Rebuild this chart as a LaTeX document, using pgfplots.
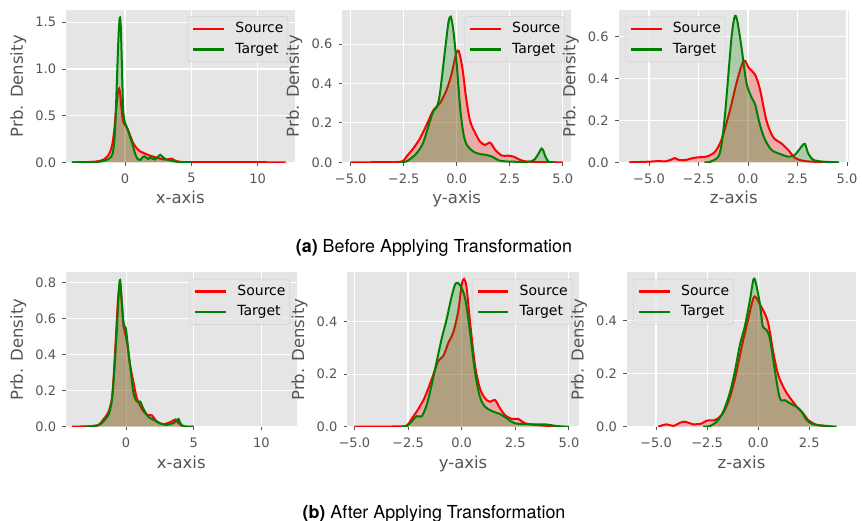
\documentclass[border=0pt]{standalone}
\usepackage{fontspec}
\setmainfont{DejaVu Sans}
\newfontfamily\capfont{TeX Gyre Heros}
\usepackage{pgfplots}
\usepackage{pgfplotstable}
\pgfplotsset{compat=1.18}

\definecolor{bggray}{HTML}{E5E5E5}
\definecolor{labgray}{HTML}{555555}
\definecolor{src}{HTML}{FF0000}
\definecolor{tgt}{HTML}{008000}

% ---- data: top row (before) ----
\pgfplotstableread{
x y
-4.0 0
-3.0 0.002
-2.4 0.006
-2.0 0.012
-1.6 0.03
-1.35 0.06
-1.13 0.11
-0.95 0.2
-0.8 0.36
-0.68 0.56
-0.55 0.74
-0.45 0.79
-0.37 0.74
-0.27 0.58
-0.15 0.44
0.0 0.40
0.15 0.37
0.35 0.30
0.6 0.21
0.88 0.15
1.1 0.12
1.4 0.10
1.9 0.07
2.4 0.05
2.9 0.03
3.2 0.03
3.5 0.04
3.75 0.02
4.1 0.006
4.6 0.002
6 0.001
9 0.001
12.1 0.0
}\srcXa
\pgfplotstableread{
x y
-4.0 0
-2.5 0.001
-2.0 0.005
-1.5 0.02
-1.1 0.05
-0.9 0.12
-0.75 0.35
-0.62 0.85
-0.5 1.32
-0.40 1.55
-0.32 1.45
-0.24 1.05
-0.15 0.6
-0.05 0.45
0.1 0.39
0.25 0.33
0.4 0.26
0.55 0.2
0.7 0.12
0.85 0.06
1.0 0.03
1.15 0.025
1.3 0.05
1.45 0.065
1.6 0.05
1.75 0.035
1.9 0.055
2.05 0.04
2.25 0.03
2.45 0.055
2.65 0.08
2.85 0.055
3.1 0.03
3.4 0.02
3.8 0.008
4.2 0.0
5.0 0
}\tgtXa
\pgfplotstableread{
x y
-5.0 0
-3.5 0.0005
-2.7 0.002
-2.5 0.01
-2.36 0.03
-2.05 0.07
-1.74 0.12
-1.42 0.19
-1.1 0.265
-0.79 0.30
-0.47 0.37
-0.24 0.45
-0.03 0.55
0.1 0.565
0.28 0.47
0.44 0.33
0.63 0.21
0.87 0.15
1.1 0.105
1.34 0.088
1.58 0.10
1.82 0.063
2.13 0.034
2.44 0.034
2.68 0.029
3.0 0.012
3.3 0.004
4.0 0.001
5.0 0
}\srcYa
\pgfplotstableread{
x y
-2.7 0
-2.36 0.005
-2.1 0.025
-1.89 0.046
-1.58 0.10
-1.26 0.21
-1.1 0.26
-0.94 0.28
-0.79 0.35
-0.55 0.57
-0.39 0.71
-0.28 0.74
-0.16 0.67
0.0 0.50
0.16 0.28
0.31 0.15
0.47 0.09
0.79 0.054
1.1 0.042
1.42 0.037
1.66 0.029
2.05 0.008
2.68 0.003
3.5 0.004
3.75 0.025
3.87 0.046
4.0 0.07
4.1 0.055
4.18 0.03
4.34 0.002
4.6 0
}\tgtYa
\pgfplotstableread{
x y
-6.0 0
-5.0 0.003
-4.5 0.006
-4.2 0.004
-3.9 0.012
-3.7 0.02
-3.45 0.01
-3.1 0.012
-2.8 0.02
-2.5 0.024
-2.1 0.027
-1.67 0.05
-1.33 0.11
-0.91 0.25
-0.58 0.38
-0.3 0.47
-0.15 0.485
0.05 0.45
0.35 0.42
0.6 0.35
0.93 0.20
1.27 0.12
1.69 0.09
2.03 0.059
2.36 0.022
2.79 0.007
3.46 0.002
4.5 0
}\srcZa
\pgfplotstableread{
x y
-2.2 0
-1.92 0.002
-1.5 0.027
-1.33 0.09
-1.17 0.22
-1.0 0.41
-0.83 0.60
-0.68 0.695
-0.55 0.68
-0.33 0.55
-0.08 0.38
0.18 0.31
0.35 0.28
0.6 0.18
0.85 0.11
1.19 0.059
1.61 0.040
2.03 0.027
2.36 0.035
2.7 0.075
2.87 0.088
3.04 0.043
3.29 0.012
3.8 0.003
4.6 0
}\tgtZa

% ---- data: bottom row (after) ----
\pgfplotstableread{
x y
-4.0 0
-3.0 0.002
-2.1 0.006
-1.68 0.04
-1.31 0.08
-1.06 0.15
-0.94 0.25
-0.75 0.5
-0.6 0.7
-0.46 0.79
-0.38 0.75
-0.25 0.62
-0.19 0.56
0.07 0.47
0.3 0.34
0.54 0.25
0.79 0.16
1.16 0.10
1.53 0.066
1.9 0.063
2.27 0.03
2.77 0.014
3.4 0.03
3.65 0.04
3.88 0.02
4.2 0.003
5 0
}\srcXb
\pgfplotstableread{
x y
-3.0 0
-2.0 0.01
-1.68 0.03
-1.31 0.065
-1.06 0.14
-0.89 0.29
-0.69 0.53
-0.54 0.75
-0.44 0.815
-0.31 0.69
-0.19 0.58
-0.05 0.55
0.0 0.54
0.17 0.42
0.35 0.31
0.54 0.19
0.79 0.14
1.04 0.14
1.28 0.10
1.65 0.055
2.0 0.04
2.5 0.018
3.0 0.01
3.5 0.02
3.75 0.035
3.88 0.043
4.05 0.015
4.37 0
5 0
}\tgtXb
\pgfplotstableread{
x y
-5.0 0
-3.0 0.001
-2.56 0.004
-2.33 0.03
-2.0 0.07
-1.71 0.114
-1.4 0.18
-1.09 0.25
-0.85 0.27
-0.62 0.32
-0.39 0.36
-0.16 0.44
0.0 0.54
0.11 0.563
0.23 0.53
0.39 0.40
0.62 0.235
0.85 0.146
1.09 0.108
1.32 0.095
1.55 0.102
1.79 0.070
2.02 0.044
2.33 0.03
2.64 0.03
2.95 0.013
3.57 0.006
4.5 0
}\srcYb
\pgfplotstableread{
x y
-2.8 0
-2.56 0.003
-2.33 0.02
-2.1 0.04
-1.86 0.04
-1.63 0.083
-1.4 0.159
-1.16 0.25
-0.93 0.336
-0.7 0.41
-0.47 0.495
-0.28 0.546
-0.08 0.54
0.16 0.49
0.39 0.36
0.62 0.21
0.85 0.114
1.09 0.076
1.4 0.06
1.79 0.048
2.1 0.032
2.48 0.013
3.26 0.009
3.88 0.009
4.5 0.002
5.0 0
}\tgtYb
\pgfplotstableread{
x y
-4.9 0
-4.48 0.009
-4.15 0.003
-3.66 0.019
-3.17 0.009
-2.77 0.012
-2.52 0.023
-2.12 0.025
-1.79 0.044
-1.46 0.094
-1.14 0.18
-0.81 0.30
-0.48 0.41
-0.24 0.484
-0.11 0.488
0.09 0.46
0.28 0.434
0.49 0.39
0.74 0.28
0.98 0.195
1.31 0.138
1.64 0.10
1.96 0.069
2.2 0.05
2.45 0.025
2.78 0.009
3.19 0.003
3.6 0
}\srcZb
\pgfplotstableread{
x y
-2.7 0
-2.36 0.003
-2.03 0.019
-1.71 0.057
-1.38 0.13
-1.14 0.21
-0.89 0.31
-0.65 0.38
-0.4 0.48
-0.24 0.553
-0.13 0.547
0.09 0.46
0.22 0.38
0.41 0.365
0.58 0.33
0.82 0.21
1.06 0.107
1.31 0.10
1.55 0.088
1.88 0.075
2.13 0.057
2.37 0.025
2.7 0.009
3.35 0.003
3.84 0
}\tgtZb

\pgfplotsset{
  kde/.style={
    scale only axis, anchor=south west,
    axis background/.style={fill=bggray},
    axis line style={draw=none},
    xmajorgrids, ymajorgrids,
    major grid style={white, line width=1.1pt},
    tick align=outside, tick pos=left,
    major tick length=3.7pt,
    every tick/.style={labgray, line width=0.9pt},
    tick label style={font=\fontsize{13}{15}\selectfont, text=labgray},
    xticklabel style={anchor=north, inner sep=0pt, yshift=-7.3pt},
    yticklabel style={anchor=east, inner sep=0pt, xshift=-6pt},
    ymin=0,
    legend cell align=left,
    legend style={fill=bggray, fill opacity=0.8, text opacity=1,
      draw=white!80!black, rounded corners=2.5pt,
      font=\fontsize{14}{16}\selectfont, inner xsep=4.3pt, inner ysep=5.5pt,
      row sep=7.2pt,
      nodes={inner sep=0pt, text height=10.5pt, text depth=3pt}},
    legend image code/.code={%
      \draw[##1, line width=2.7pt] (0pt,0pt) -- (30.7pt,0pt);
      \path (41pt,0pt);},
  },
  ur/.style={legend style={at={(1,1)}, anchor=north east, xshift=-6.5pt, yshift=-6.5pt}},
  ul/.style={legend style={at={(0,1)}, anchor=north west, xshift=6.5pt, yshift=-6.5pt}},
  fillS/.style={draw=none, fill=src, fill opacity=0.25, smooth, forget plot},
  fillT/.style={draw=none, fill=tgt, fill opacity=0.25, smooth, forget plot},
  lineS/.style={src, line width=2pt, smooth},
  lineT/.style={tgt, line width=2pt, smooth},
}

\newcommand{\axlabels}[2]{%
  \node[font=\fontsize{16.5}{18}\selectfont, text=labgray, anchor=base]
    at ([yshift=-41.7pt]#1.south) {#2};
  \node[font=\fontsize{16.5}{18}\selectfont, text=labgray, rotate=90, anchor=center]
    at ([xshift=-47.8pt]#1.west) {Prb. Density};
}

\begin{document}
\begin{tikzpicture}
\path[use as bounding box] (0pt,0pt) rectangle (862pt,520pt);

% (a) before
\begin{axis}[kde, ur, name=p1, at={(66pt,357.7pt)}, width=228.5pt, height=152.3pt,
  xmin=-4.45, xmax=12.77, ymax=1.632,
  xtick={0,5,10}, xticklabels={0,5,10},
  ytick={0,0.5,1,1.5}, yticklabels={0.0,0.5,1.0,1.5}]
\addplot[fillS] table {\srcXa} \closedcycle;
\addplot[lineS] table {\srcXa};
\addplot[fillT] table {\tgtXa} \closedcycle;
\addplot[lineT] table {\tgtXa};
\legend{Source,Target}
\end{axis}
\axlabels{p1}{x-axis}

\begin{axis}[kde, ur, name=p2, at={(342.2pt,357.7pt)}, width=229pt, height=152.3pt,
  xmin=-5.4, xmax=5.4, ymax=0.774,
  xtick={-5,-2.5,0,2.5,5}, xticklabels={−5.0,−2.5,0.0,2.5,5.0},
  ytick={0,0.2,0.4,0.6}, yticklabels={0.0,0.2,0.4,0.6}]
\addplot[fillS] table {\srcYa} \closedcycle;
\addplot[lineS] table {\srcYa};
\addplot[fillT] table {\tgtYa} \closedcycle;
\addplot[lineT] table {\tgtYa};
\legend{Source,Target}
\end{axis}
\axlabels{p2}{y-axis}

\begin{axis}[kde, ul, name=p3, at={(618.5pt,357.7pt)}, width=230.5pt, height=152.3pt,
  xmin=-6.54, xmax=5.1, ymax=0.728,
  xtick={-5,-2.5,0,2.5,5}, xticklabels={−5.0,−2.5,0.0,2.5,5.0},
  ytick={0,0.2,0.4,0.6}, yticklabels={0.0,0.2,0.4,0.6}]
\addplot[fillS] table {\srcZa} \closedcycle;
\addplot[lineS] table {\srcZa};
\addplot[fillT] table {\tgtZa} \closedcycle;
\addplot[lineT] table {\tgtZa};
\legend{Source,Target}
\end{axis}
\axlabels{p3}{z-axis}

\node[font=\capfont\fontsize{17.9}{20}\selectfont, anchor=base] at (434pt,267.7pt)
  {\textbf{(a)} Before Applying Transformation};

% (b) after
\begin{axis}[kde, ur, name=p4, at={(66pt,93.3pt)}, width=230.5pt, height=154.3pt,
  xmin=-4.44, xmax=12.6, ymax=0.857,
  xtick={0,5,10}, xticklabels={0,5,10},
  ytick={0,0.2,0.4,0.6,0.8}, yticklabels={0.0,0.2,0.4,0.6,0.8}]
\addplot[fillS] table {\srcXb} \closedcycle;
\addplot[lineS] table {\srcXb};
\addplot[fillT] table {\tgtXb} \closedcycle;
\addplot[lineT] table {\tgtXb};
\legend{Source,Target}
\end{axis}
\axlabels{p4}{x-axis}

\begin{axis}[kde, ur, name=p5, at={(347.3pt,93.3pt)}, width=231.5pt, height=154.3pt,
  xmin=-5.33, xmax=5.46, ymax=0.588,
  xtick={-5,-2.5,0,2.5,5}, xticklabels={−5.0,−2.5,0.0,2.5,5.0},
  ytick={0,0.2,0.4}, yticklabels={0.0,0.2,0.4}]
\addplot[fillS] table {\srcYb} \closedcycle;
\addplot[lineS] table {\srcYb};
\addplot[fillT] table {\tgtYb} \closedcycle;
\addplot[lineT] table {\tgtYb};
\legend{Source,Target}
\end{axis}
\axlabels{p5}{y-axis}

\begin{axis}[kde, ul, name=p6, at={(626.8pt,93.3pt)}, width=229.5pt, height=154.3pt,
  xmin=-6.43, xmax=4.8, ymax=0.582,
  xtick={-5,-2.5,0,2.5}, xticklabels={−5.0,−2.5,0.0,2.5},
  ytick={0,0.2,0.4}, yticklabels={0.0,0.2,0.4}]
\addplot[fillS] table {\srcZb} \closedcycle;
\addplot[lineS] table {\srcZb};
\addplot[fillT] table {\tgtZb} \closedcycle;
\addplot[lineT] table {\tgtZb};
\legend{Source,Target}
\end{axis}
\axlabels{p6}{z-axis}

\node[font=\capfont\fontsize{17.9}{20}\selectfont, anchor=base] at (434pt,1.7pt)
  {\textbf{(b)} After Applying Transformation};
\end{tikzpicture}
\end{document}
